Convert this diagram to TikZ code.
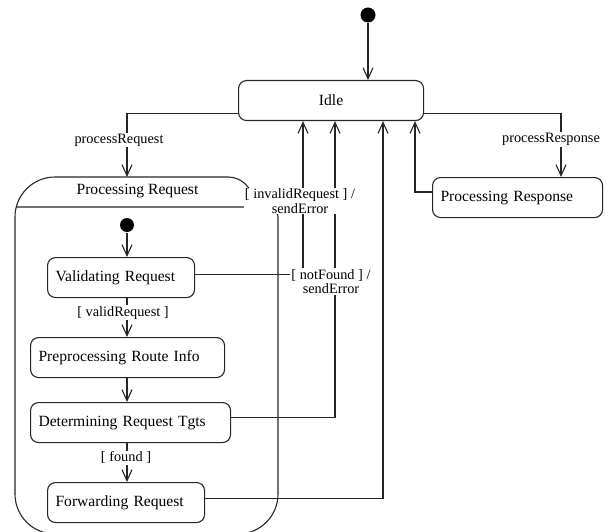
\documentclass[tikz,border=0pt]{standalone}
\usepackage{fontspec}
\setmainfont{Liberation Serif}
\usetikzlibrary{arrows.meta,calc}

\begin{document}
\begin{tikzpicture}[x=1pt,y=-1pt,
  line width=1.1pt,
  ink/.style={draw=black!85},
  stbox/.style={ink, rounded corners=8pt, minimum height=40pt, inner xsep=8pt,
    inner ysep=0pt, align=left, anchor=north west,
    font=\fontsize{15.6}{18}\selectfont},
  arr/.style={ink, -{Straight Barb[length=11pt,width=10pt,line width=1.1pt]}},
  lbl/.style={fill=white, inner sep=1pt, align=center,
    font=\fontsize{14.3}{14.5}\selectfont},
  initdot/.style={circle, fill=black, inner sep=0pt, minimum size=15pt},
]
\useasboundingbox (0,0) rectangle (610,532);

% composite state "Processing Request": outline with name compartment
\draw[ink] (15,494) -- (15,217) arc[start angle=180,end angle=90,radius=40pt]
  -- (228,177) arc[start angle=90,end angle=0,radius=25pt] -- (253,207);
\draw[ink] (16.3,207) -- (268,207) arc[start angle=90,end angle=0,radius=10pt]
  -- (278,494) arc[start angle=0,end angle=-90,radius=40pt]
  -- (55,534) arc[start angle=270,end angle=180,radius=40pt] -- (15,494);
\node[font=\fontsize{15.6}{18}\selectfont] (prochead) at (137.5,191) {Processing Request};
\coordinate (procTop) at (127,177);

% initial pseudostates
\node[initdot] (start) at (368,15) {};
\node[initdot, minimum size=14pt] (substart) at (127,225) {};

% states
\node[stbox, align=center, text width=169pt] (idle) at (238,80) {Idle};
\node[stbox, text width=154pt] (presp) at (432,177) {Processing Response};
\node[stbox, text width=131pt] (valid) at (47,257) {Validating Request};
\node[stbox, text width=178pt] (prep)  at (30,337) {Preprocessing Route Info};
\node[stbox, text width=184pt] (det)   at (30,402) {Determining Request Tgts};
\node[stbox, text width=141pt] (fwd)   at (47,482) {Forwarding Request};

% connector end points on the Idle border
\coordinate (idleW) at ($(idle.south west)+(0,-8)$);
\coordinate (idleE) at ($(idle.south east)+(0,-8)$);
\coordinate (inValid) at ($(idle.south west)+(65,0)$);
\coordinate (inDet)   at ($(idle.south west)+(97,0)$);
\coordinate (inFwd)   at ($(idle.south west)+(145,0)$);
\coordinate (inResp)  at ($(idle.south west)+(177,0)$);
\coordinate (respIn)  at ($(presp.north west)+(129,0)$);
\coordinate (respOut) at ($(presp.north west)+(0,15)$);
\coordinate (validOut) at ($(valid.east)+(0,-3)$);
\coordinate (detOut)   at ($(det.east)+(0,-5)$);
\coordinate (fwdOut)   at ($(fwd.east)+(0,-4)$);

% top level transitions
\draw[arr] (start) -- (start |- idle.north);
\draw[arr] (idleW) -| (procTop)
  node[lbl, pos=0.71, xshift=-8pt] {processRequest};
\draw[arr] (idleE) -| (respIn)
  node[lbl, pos=0.708, xshift=-10pt] {processResponse};
\draw[arr] (respOut) -| (inResp);

% transitions back to Idle
\draw[arr] (validOut) -| (inValid);
\draw[arr] (fwdOut) -| (inFwd);
\draw[arr] (detOut) -| (inDet)
  node[lbl, pos=0.729, xshift=-4pt] {[ notFound ] /\\sendError};
\path (validOut) -| (inValid)
  node[lbl, pos=0.739, xshift=-3pt] {[ invalidRequest ] /\\sendError};

% transitions inside Processing Request
\draw[arr] (substart) -- (substart |- valid.north);
\draw[arr] (valid.south -| substart) -- (prep.north -| substart)
  node[lbl, pos=0.375, xshift=-4pt] {[ validRequest ]};
\draw[arr] (prep.south -| substart) -- (det.north -| substart);
\draw[arr] (det.south -| substart) -- (fwd.north -| substart)
  node[lbl, pos=0.375, xshift=-1pt] {[ found ]};
\end{tikzpicture}
\end{document}
